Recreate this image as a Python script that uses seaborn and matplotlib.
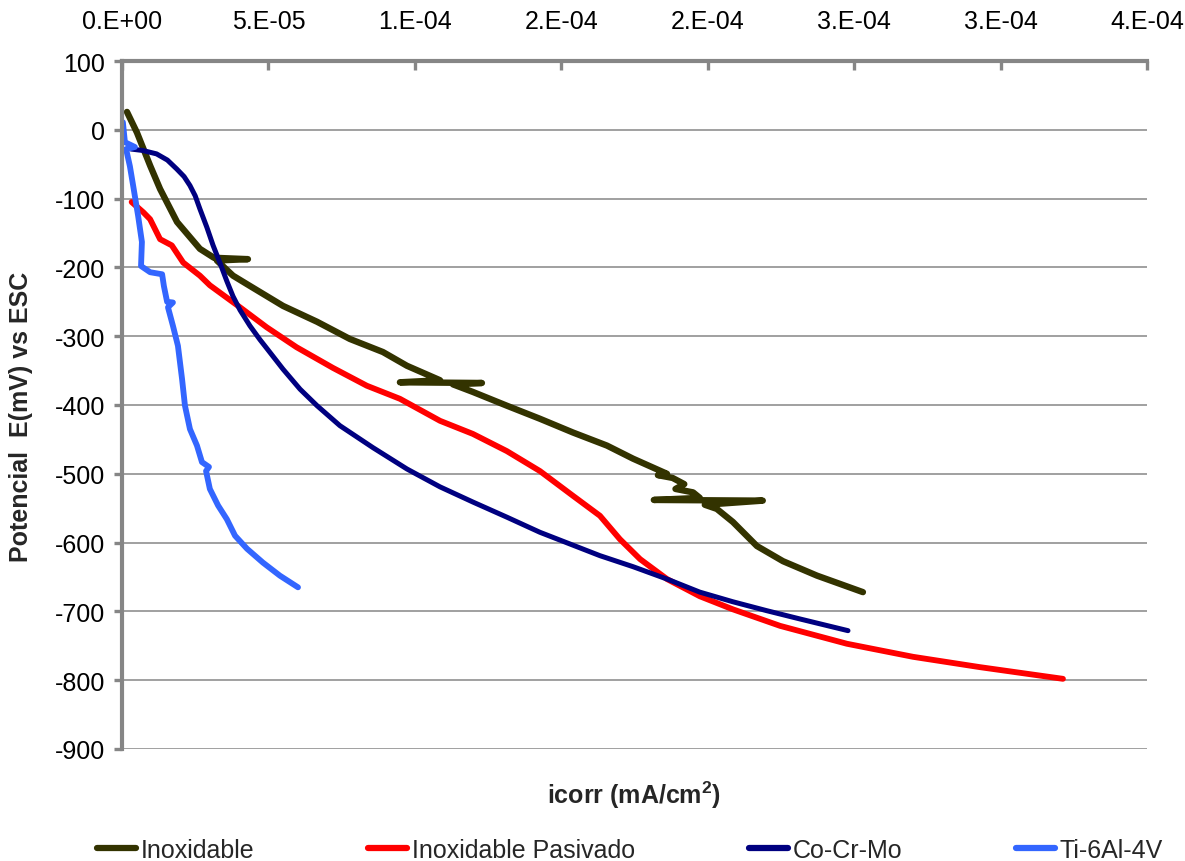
import numpy as np
import pandas as pd
import matplotlib
matplotlib.use("Agg")
import matplotlib.pyplot as plt
import seaborn as sns

# ---------------- data ----------------
series_names = ["Inoxidable", "Inoxidable Pasivado", "Co-Cr-Mo", "Ti-6Al-4V"]
series_colors = ["#333300", "#FF0000", "#000080", "#3366FF"]

inox_i = [1.7e-6, 5.1e-6, 9.6e-6, 1.30e-5, 1.88e-5, 2.66e-5, 3.14e-5, 4.30e-5, 3.24e-5,
          3.79e-5, 4.37e-5, 5.50e-5, 6.66e-5, 7.78e-5, 8.91e-5, 9.73e-5, 1.086e-4,
          9.49e-5, 1.229e-4, 1.130e-4, 1.198e-4, 1.314e-4, 1.427e-4, 1.540e-4,
          1.656e-4, 1.745e-4, 1.861e-4, 1.830e-4, 1.880e-4, 1.920e-4, 1.890e-4,
          1.950e-4, 1.973e-4, 1.816e-4, 2.188e-4, 1.990e-4, 2.031e-4, 2.086e-4,
          2.168e-4, 2.257e-4, 2.373e-4, 2.530e-4]
inox_e = [26, -4, -52, -86, -134, -173, -186, -188, -190,
          -212, -227, -256, -279, -304, -323, -343, -364,
          -367, -368, -370, -381, -401, -420, -440,
          -459, -478, -500, -502, -506, -515, -522,
          -527, -535, -538, -539, -545, -551, -570,
          -605, -627, -648, -672]

pas_i = [3.3e-6, 7.3e-6, 9.6e-6, 1.30e-5, 1.70e-5, 2.09e-5, 2.66e-5, 3.00e-5, 4.03e-5,
         4.94e-5, 5.96e-5, 7.20e-5, 8.36e-5, 9.49e-5, 1.086e-4, 1.198e-4, 1.314e-4,
         1.427e-4, 1.540e-4, 1.632e-4, 1.700e-4, 1.769e-4, 1.861e-4, 1.973e-4,
         2.086e-4, 2.247e-4, 2.475e-4, 2.701e-4, 2.929e-4, 3.213e-4]
pas_e = [-105, -120, -130, -159, -168, -193, -212, -226, -258,
         -287, -316, -346, -372, -391, -423, -442, -467,
         -496, -532, -561, -595, -624, -653, -678,
         -697, -721, -747, -766, -781, -798]

cocr_i = [3.1e-6, 7.0e-6, 1.18e-5, 1.55e-5, 1.87e-5, 2.12e-5, 2.32e-5, 2.50e-5, 2.66e-5,
          2.90e-5, 3.11e-5, 3.35e-5, 3.58e-5, 3.79e-5, 4.03e-5, 4.37e-5, 4.71e-5,
          4.95e-5, 5.50e-5, 6.08e-5, 6.66e-5, 7.44e-5, 8.57e-5, 9.73e-5, 1.086e-4,
          1.198e-4, 1.314e-4, 1.427e-4, 1.632e-4, 1.745e-4, 1.861e-4, 1.973e-4,
          2.086e-4, 2.202e-4, 2.315e-4, 2.479e-4]
cocr_e = [-28, -30, -35, -44, -57, -68, -81, -96, -115,
          -142, -168, -194, -220, -242, -262, -285, -305,
          -318, -348, -377, -401, -430, -462, -493, -519,
          -541, -563, -585, -619, -635, -653, -672,
          -686, -699, -711, -728]

ti_i = [3e-7, 1.0e-6, 4.4e-6, 1.4e-6, 2.7e-6, 3.8e-6, 5.5e-6, 6.8e-6, 6.5e-6, 9.6e-6,
        1.37e-5, 1.43e-5, 1.54e-5, 1.74e-5, 1.57e-5, 1.74e-5, 1.91e-5, 2.05e-5, 2.15e-5,
        2.32e-5, 2.56e-5, 2.73e-5, 2.97e-5, 2.87e-5, 3.00e-5, 3.28e-5, 3.58e-5,
        3.86e-5, 4.27e-5, 4.81e-5, 5.39e-5, 6.01e-5]
ti_e = [11, -18, -25, -28, -53, -81, -125, -163, -198, -207,
        -210, -227, -250, -251, -258, -285, -314, -362, -401,
        -435, -459, -483, -490, -496, -522, -546, -566,
        -590, -609, -629, -648, -665]

y_ticks = [-900, -800, -700, -600, -500, -400, -300, -200, -100, 0, 100]
x_tick_labels = ["0.E+00", "5.E-05", "1.E-04", "2.E-04", "2.E-04", "3.E-04", "3.E-04", "4.E-04"]

x_label = "icorr (mA/cm$^2$)"
y_label = "Potencial  E(mV) vs ESC"

# ---------------- frame ----------------
frames = []
for name, xi, ei in [(series_names[0], inox_i, inox_e),
                     (series_names[1], pas_i, pas_e),
                     (series_names[2], cocr_i, cocr_e),
                     (series_names[3], ti_i, ti_e)]:
    frames.append(pd.DataFrame({"icorr": xi, "E": ei, "serie": name}))
df = pd.concat(frames, ignore_index=True)

# ---------------- style ----------------
sns.set_theme(style="white")
plt.rcParams["font.family"] = ["Liberation Sans", "DejaVu Sans"]
plt.rcParams["axes.unicode_minus"] = False
plt.rcParams["mathtext.default"] = "regular"

fig = plt.figure(figsize=(11.85, 8.62), dpi=100)
ax = fig.add_axes([122 / 1185, 1 - 750 / 862, (1147 - 122) / 1185, (750 - 62) / 862])

palette = dict(zip(series_names, series_colors))
sns.lineplot(data=df, x="icorr", y="E", hue="serie", hue_order=series_names,
             palette=palette, sort=False, estimator=None, ax=ax, legend=True,
             linewidth=4.0, solid_capstyle="round", solid_joinstyle="round")

widths = {"Inoxidable": 4.6, "Inoxidable Pasivado": 4.2, "Co-Cr-Mo": 3.6, "Ti-6Al-4V": 4.2}
for line, name in zip(ax.get_lines()[:4], series_names):
    line.set_linewidth(widths[name])

handles, labels = ax.get_legend_handles_labels()
ax.get_legend().remove()
for h in handles:
    h.set_linewidth(4.5)

grey = "#868686"
ax.set_xlim(0, 3.5e-4)
ax.set_ylim(-900, 100)
ax.set_xticks(np.linspace(0, 3.5e-4, len(x_tick_labels)))
ax.set_xticklabels(x_tick_labels)
ax.set_yticks(y_ticks)
ax.set_yticklabels([str(v) for v in y_ticks])

ax.xaxis.tick_top()
ax.tick_params(axis="x", which="major", direction="in", length=6.5, width=2.4,
               color=grey, labelsize=18, pad=20, labelcolor="black")
ax.tick_params(axis="y", which="major", direction="out", length=6, width=2.4,
               color=grey, labelsize=18, pad=6, labelcolor="black", left=True)

for side in ["right", "bottom"]:
    ax.spines[side].set_visible(False)
for side in ["left", "top"]:
    ax.spines[side].set_color(grey)
    ax.spines[side].set_linewidth(3.0)

ax.yaxis.grid(True, color=grey, linewidth=1.1)
ax.xaxis.grid(False)
ax.set_axisbelow(True)

ax.set_xlabel(x_label, fontsize=18, fontweight="bold")
ax.xaxis.set_label_position("bottom")
ax.xaxis.set_label_coords(0.5, -0.043)
ax.set_ylabel(y_label, fontsize=18, fontweight="bold")
ax.yaxis.set_label_coords(-0.087, 0.484)

fig.legend(handles, labels, loc="center left", bbox_to_anchor=(97 / 1185, 1 - 851 / 862),
           ncol=4, frameon=False, fontsize=18, handlelength=1.55, handletextpad=0.2,
           columnspacing=4.55, borderpad=0, borderaxespad=0)

fig.savefig("out.png", dpi=100)
